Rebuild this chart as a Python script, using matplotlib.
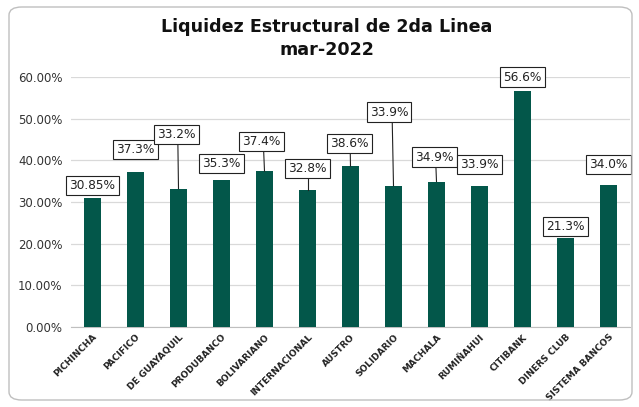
import numpy as np
import matplotlib.pyplot as plt
from matplotlib.patches import FancyBboxPatch
from matplotlib.ticker import FuncFormatter

# datos
bancos = ['PICHINCHA', 'PACIFICO', 'DE GUAYAQUIL', 'PRODUBANCO', 'BOLIVARIANO',
          'INTERNACIONAL', 'AUSTRO', 'SOLIDARIO', 'MACHALA', 'RUMIÑAHUI',
          'CITIBANK', 'DINERS CLUB', 'SISTEMA BANCOS']
liquidez = [0.3085, 0.373, 0.332, 0.353, 0.374, 0.328, 0.386, 0.339, 0.349,
            0.339, 0.566, 0.213, 0.340]
etiquetas = ['30.85%', '37.3%', '33.2%', '35.3%', '37.4%', '32.8%', '38.6%',
             '33.9%', '34.9%', '33.9%', '56.6%', '21.3%', '34.0%']

# posicion de las etiquetas (y en datos, desplazamiento x en categorias)
lab_y = [0.340, 0.427, 0.463, 0.393, 0.446, 0.381, 0.441, 0.516, 0.408,
         0.391, 0.600, 0.242, 0.391]
lab_dx = [0, 0, -0.05, 0, -0.07, 0, -0.02, -0.1, -0.05, 0, 0, 0, 0]
con_linea = [False, False, True, False, True, True, True, True, True,
             False, False, False, False]

color_barra = '#03574a'

fig = plt.figure(figsize=(6.39, 4.07), dpi=100)
fig.patch.set_facecolor('white')

# marco redondeado del grafico
marco = FancyBboxPatch((9 / 639, 7 / 407), 623 / 639, 393 / 407,
                       boxstyle='round,pad=0,rounding_size=0.02',
                       transform=fig.transFigure, facecolor='none',
                       edgecolor='#bfbfbf', linewidth=1.0)
fig.patches.append(marco)

ax = fig.add_axes([71 / 639, 1 - 327 / 407, 559 / 639, 250 / 407])
x = np.arange(len(bancos))
ax.bar(x, liquidez, width=0.4, color=color_barra, zorder=3)

ax.set_xlim(-0.5, len(bancos) - 0.5)
ax.set_ylim(0, 0.6)
ax.set_yticks(np.arange(0, 0.61, 0.1))
ax.yaxis.set_major_formatter(FuncFormatter(lambda v, p: f'{v * 100:.2f}%'))
ax.grid(axis='y', color='#d9d9d9', linewidth=0.9, zorder=0)
for s in ['top', 'right', 'left']:
    ax.spines[s].set_visible(False)
ax.spines['bottom'].set_color('#bfbfbf')
ax.tick_params(axis='both', length=0)
ax.tick_params(axis='y', labelsize=8.5, labelcolor='#333333', pad=6)
ax.set_xticks(x)
ax.set_xticklabels(bancos, rotation=45, ha='right', rotation_mode='anchor',
                   fontsize=6.5, fontweight='bold', color='#222222')
ax.tick_params(axis='x', pad=4)

for i in range(len(bancos)):
    ax.text(x[i] + lab_dx[i], lab_y[i], etiquetas[i], ha='center', va='center',
            fontsize=8.7, color='#222222', zorder=5,
            bbox=dict(boxstyle='square,pad=0.25', facecolor='white',
                      edgecolor='#222222', linewidth=0.8))
    if con_linea[i]:
        ax.plot([x[i] + lab_dx[i] * 0.3, x[i]], [lab_y[i] - 0.02, liquidez[i]],
                color='#222222', linewidth=0.8, zorder=4)

fig.text(0.511, 0.934, 'Liquidez Estructural de 2da Linea', ha='center',
         va='center', fontsize=12.6, fontweight='bold', color='#111111')
fig.text(0.511, 0.877, 'mar-2022', ha='center', va='center', fontsize=12.6,
         fontweight='bold', color='#111111')

fig.savefig('out.png', dpi=100, facecolor='white')
